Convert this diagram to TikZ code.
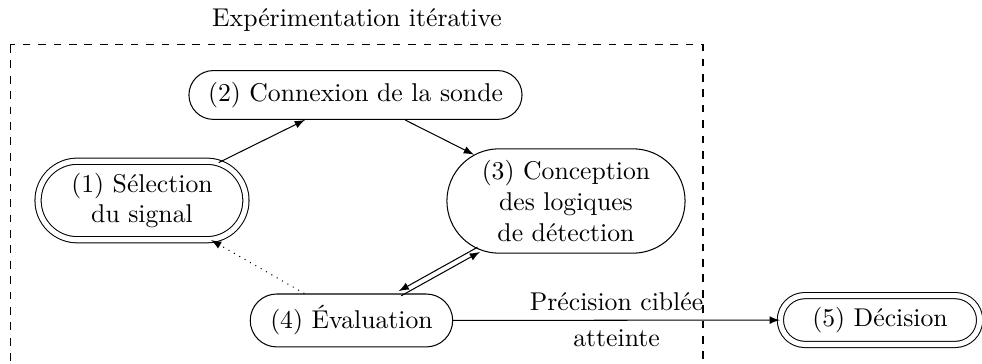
\documentclass[tikz,border=0pt]{standalone}
\usepackage{fontspec}
\usetikzlibrary{arrows}
\usetikzlibrary{shapes.misc}
\usetikzlibrary{positioning}

\tikzset{
  etape/.style={draw, rounded rectangle, inner xsep=6pt, inner ysep=4.5pt, align=center},
  etapedouble/.style={etape, double, double distance=2pt, inner xsep=8.5pt},
}

\begin{document}
\begin{tikzpicture}
  \useasboundingbox (0,0) rectangle (13.431,-4.965);
  % Rahmen
  \draw[dashed] (0.137,-0.615) rectangle (9.615,-5.3);
  \node (titre) at (4.883,-0.274) {Expérimentation itérative};

  \node[etapedouble] (selection) at (1.942,-2.742) {(1) Sélection\\du signal};
  \node[etape] (connexion) at (4.862,-1.299) {(2) Connexion de la sonde};
  \node[etape] (conception) at (7.741,-2.749) {(3) Conception\\des logiques\\de détection};
  \node[etape] (evaluation) at (4.807,-4.383) {(4) Évaluation};
  \node[etapedouble, inner xsep=11pt] (decision) at (12.036,-4.377) {(5) Décision};

  \draw[-latex] (selection) -- (connexion);
  \draw[-latex] (connexion) -- (conception);
  \draw[-latex, transform canvas={xshift=0.5pt, yshift=-0.9pt}] (evaluation) -- (conception);
  \draw[-latex, transform canvas={xshift=-0.5pt, yshift=0.9pt}] (conception) -- (evaluation);
  \draw[-latex, dotted] (evaluation) -- (selection);
  \draw[-latex] (evaluation) -- node[above] {Précision ciblée} node[below] {atteinte} (decision);
\end{tikzpicture}
\end{document}
